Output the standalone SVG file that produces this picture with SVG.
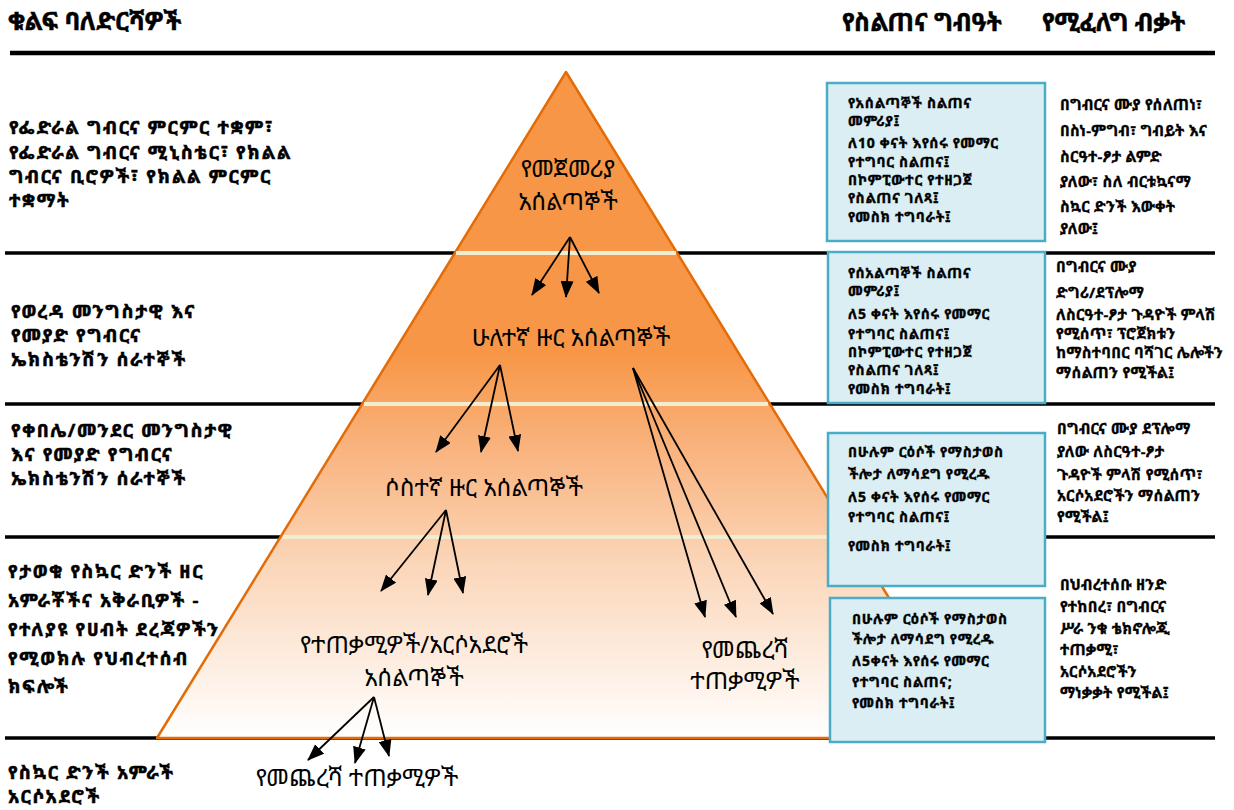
<svg xmlns="http://www.w3.org/2000/svg" width="1234" height="810" viewBox="0 0 1234 810">
<defs>
<linearGradient id="pyr" gradientUnits="userSpaceOnUse" x1="0" y1="72" x2="0" y2="738">
<stop offset="0" stop-color="#F79646"/>
<stop offset="0.42" stop-color="#F79646"/>
<stop offset="0.57" stop-color="#F9B480"/>
<stop offset="0.74" stop-color="#FBD6B9"/>
<stop offset="1" stop-color="#FFFFFF"/>
</linearGradient>
<marker id="ah" markerUnits="userSpaceOnUse" markerWidth="17" markerHeight="13" refX="16" refY="6.5" orient="auto">
<path d="M0,0 L17,6.5 L0,13 z" fill="#000"/>
</marker>
<style>
text{font-family:"Noto Sans Ethiopic","Noto Sans","DejaVu Sans",sans-serif;fill:#000}
.hd{font-size:24.5px;font-weight:bold;stroke:#000;stroke-width:0.5}
.lf{font-size:18.5px;letter-spacing:1.7px;font-weight:bold;stroke:#000;stroke-width:0.55}
.pc{font-size:24px}
.bx{font-size:14px;letter-spacing:0.7px;font-weight:bold;stroke:#000;stroke-width:0.4}
.rt{font-size:15px;letter-spacing:0.3px;font-weight:bold;stroke:#000;stroke-width:0.35}
.blk{stroke:#000;stroke-width:3.5;fill:none}
.crm{stroke:#F2EDCF;stroke-width:4;fill:none}
.box{fill:#DAEEF3;stroke:#4BACC6;stroke-width:2.5}
.arr{stroke:#000;stroke-width:1.8;fill:none;marker-end:url(#ah)}
</style>
</defs>
<rect width="1234" height="810" fill="#fff"/>
<g id="rules">
<line class="blk" x1="10" y1="53" x2="1215" y2="53" style="stroke-width:4.5"/>
<line class="blk" x1="5" y1="253" x2="1215" y2="253"/>
<line class="blk" x1="5" y1="404" x2="1215" y2="404"/>
<line class="blk" x1="5" y1="537" x2="1215" y2="537"/>
<line class="blk" x1="5" y1="738" x2="1215" y2="738"/>
</g>
<g id="pyramid">
<path d="M566,72 L975,738 L157,738 Z" fill="url(#pyr)" stroke="#E36C09" stroke-width="2.5" stroke-linejoin="round"/>
<line class="crm" x1="456" y1="253" x2="676" y2="253"/>
<line class="crm" x1="364" y1="404" x2="768" y2="404"/>
<line class="crm" x1="283" y1="537" x2="849" y2="537"/>
</g>
<g id="header">
<text class="hd" x="8" y="30">ቁልፍ ባለድርሻዎች</text>
<text class="hd" x="842" y="31">የስልጠና ግብዓት</text>
<text class="hd" x="1042" y="31">የሚፈለግ ብቃት</text>
</g>
<g id="left-tier1">
<text class="lf" x="9" y="134">የፌድራል ግብርና ምርምር ተቋም፣</text>
<text class="lf" x="9" y="159">የፌድራል ግብርና ሚኒስቴር፣  የክልል</text>
<text class="lf" x="9" y="183">ግብርና ቢሮዎች፣ የክልል ምርምር</text>
<text class="lf" x="9" y="207">ተቋማት</text>
</g>
<g id="left-tier2">
<text class="lf" x="11" y="318">የወረዳ መንግስታዊ እና</text>
<text class="lf" x="11" y="342">የመያድ የግብርና</text>
<text class="lf" x="11" y="366">ኤክስቴንሽን ሰራተኞች</text>
</g>
<g id="left-tier3">
<text class="lf" x="11" y="437">የቀበሌ/መንደር መንግስታዊ</text>
<text class="lf" x="11" y="461">እና የመያድ የግብርና</text>
<text class="lf" x="11" y="485">ኤክስቴንሽን ሰራተኞች</text>
</g>
<g id="left-tier4">
<text class="lf" x="8" y="578">የታወቁ የስኳር ድንች ዘር</text>
<text class="lf" x="8" y="607">አምራቾችና አቅራቢዎች -</text>
<text class="lf" x="8" y="636">የተለያዩ የሀብት ደረጃዎችን</text>
<text class="lf" x="8" y="665">የሚወክሉ የህብረተሰብ</text>
<text class="lf" x="8" y="693">ክፍሎች</text>
</g>
<g id="left-bottom">
<text class="lf" x="8" y="779">የስኳር ድንች አምራች</text>
<text class="lf" x="8" y="803">አርሶአደሮች</text>
</g>
<g id="node-first">
<text class="pc" x="568" y="177" text-anchor="middle">የመጀመሪያ</text>
<text class="pc" x="568" y="210" text-anchor="middle">አሰልጣኞች</text>
</g>
<g id="node-second">
<text class="pc" x="571" y="346" text-anchor="middle">ሁለተኛ ዙር አሰልጣኞች</text>
</g>
<g id="node-third">
<text class="pc" x="484" y="496" text-anchor="middle">ሶስተኛ ዙር አሰልጣኞች</text>
</g>
<g id="node-users">
<text class="pc" x="414" y="653" text-anchor="middle">የተጠቃሚዎች/አርሶአደሮች</text>
<text class="pc" x="414" y="686" text-anchor="middle">አሰልጣኞች</text>
</g>
<g id="node-end-right">
<text class="pc" x="745" y="658" text-anchor="middle">የመጨረሻ</text>
<text class="pc" x="745" y="689" text-anchor="middle">ተጠቃሚዎች</text>
</g>
<g id="node-end-bottom">
<text class="pc" x="357" y="786" text-anchor="middle">የመጨረሻ ተጠቃሚዎች</text>
</g>
<g id="connectors">
<line class="arr" x1="570" y1="237" x2="532" y2="295"/>
<line class="arr" x1="570" y1="237" x2="566" y2="297"/>
<line class="arr" x1="570" y1="237" x2="599" y2="293"/>
<line class="arr" x1="500" y1="365" x2="436" y2="452"/>
<line class="arr" x1="500" y1="365" x2="481" y2="452"/>
<line class="arr" x1="500" y1="365" x2="518" y2="451"/>
<line class="arr" x1="633" y1="368" x2="705" y2="617"/>
<line class="arr" x1="633" y1="368" x2="736" y2="617"/>
<line class="arr" x1="633" y1="368" x2="773" y2="614"/>
<line class="arr" x1="446" y1="510" x2="381" y2="591"/>
<line class="arr" x1="446" y1="510" x2="428" y2="595"/>
<line class="arr" x1="446" y1="510" x2="463" y2="593"/>
<line class="arr" x1="374" y1="697" x2="308" y2="760"/>
<line class="arr" x1="374" y1="697" x2="355" y2="763"/>
<line class="arr" x1="374" y1="697" x2="389" y2="756"/>
</g>
<g id="box1">
<rect class="box" x="827" y="83" width="218" height="158"/>
<text class="bx" x="848" y="108">የአሰልጣኞች ስልጠና</text>
<text class="bx" x="848" y="126">መምሪያ፤</text>
<text class="bx" x="848" y="148">ለ10 ቀናት እየሰሩ የመማር</text>
<text class="bx" x="848" y="167">የተግባር ስልጠና፤</text>
<text class="bx" x="848" y="185">በኮምፒውተር የተዘጋጀ</text>
<text class="bx" x="848" y="203">የስልጠና ገለጻ፤</text>
<text class="bx" x="848" y="222">የመስክ ተግባራት፤</text>
</g>
<g id="req1">
<text class="rt" x="1060" y="110">በግብርና ሙያ የሰለጠነ፣</text>
<text class="rt" x="1060" y="136">በስነ-ምግብ፣ ግብይት እና</text>
<text class="rt" x="1060" y="162">ስርዓተ-ፆታ ልምድ</text>
<text class="rt" x="1060" y="187">ያለው፣ ስለ ብርቱኳናማ</text>
<text class="rt" x="1060" y="212">ስኳር ድንች እውቀት</text>
<text class="rt" x="1060" y="234">ያለው፤</text>
</g>
<g id="box2">
<rect class="box" x="828" y="252" width="217" height="151"/>
<text class="bx" x="848" y="278">የሰአልጣኞች ስልጠና</text>
<text class="bx" x="848" y="296">መምሪያ፤</text>
<text class="bx" x="848" y="319">ለ5 ቀናት እየሰሩ የመማር</text>
<text class="bx" x="848" y="339">የተግባር ስልጠና፤</text>
<text class="bx" x="848" y="357">በኮምፒውተር የተዘጋጀ</text>
<text class="bx" x="848" y="375">የስልጠና ገለጻ፤</text>
<text class="bx" x="848" y="394">የመስክ ተግባራት፤</text>
</g>
<g id="req2">
<text class="rt" x="1056" y="272">በግብርና ሙያ</text>
<text class="rt" x="1056" y="298">ድግሪ/ደፕሎማ</text>
<text class="rt" x="1056" y="320">ለስርዓተ-ፆታ ጉዳዮች ምላሽ</text>
<text class="rt" x="1056" y="339">የሚሰጥ፣ ፕሮጀክቱን</text>
<text class="rt" x="1056" y="358">ከማስተባበር ባሻገር ሌሎችን</text>
<text class="rt" x="1056" y="378">ማሰልጠን የሚችል፤</text>
</g>
<g id="box3">
<rect class="box" x="828" y="433" width="217" height="153"/>
<text class="bx" x="848" y="457">በሁሉም ርዕሶች የማስታወስ</text>
<text class="bx" x="848" y="479">ችሎታ ለማሳደግ የሚረዱ</text>
<text class="bx" x="848" y="502">ለ5 ቀናት እየሰሩ የመማር</text>
<text class="bx" x="848" y="522">የተግባር ስልጠና፤</text>
<text class="bx" x="848" y="551">የመስክ ተግባራት፤</text>
</g>
<g id="req3">
<text class="rt" x="1057" y="434">በግብርና ሙያ ደፕሎማ</text>
<text class="rt" x="1057" y="457">ያለው ለስርዓተ-ፆታ</text>
<text class="rt" x="1057" y="480">ጉዳዮች ምላሽ የሚሰጥ፣</text>
<text class="rt" x="1057" y="501">አርሶአደሮችን ማሰልጠን</text>
<text class="rt" x="1057" y="522">የሚችል፤</text>
</g>
<g id="box4">
<rect class="box" x="830" y="598" width="215" height="144"/>
<text class="bx" x="852" y="624">በሁሉም ርዕሶች የማስታወስ</text>
<text class="bx" x="852" y="644">ችሎታ ለማሳደግ የሚረዱ</text>
<text class="bx" x="852" y="666">ለ5ቀናት እየሰሩ የመማር</text>
<text class="bx" x="852" y="687">የተግባር ስልጠና;</text>
<text class="bx" x="852" y="708">የመስክ ተግባራት፤</text>
</g>
<g id="req4">
<text class="rt" x="1060" y="590">በህብረተሰቡ ዘንድ</text>
<text class="rt" x="1060" y="612">የተከበረ፣ በግብርና</text>
<text class="rt" x="1060" y="634">ሥራ ንቁ ቴክኖሎጂ</text>
<text class="rt" x="1060" y="655">ተጠቃሚ፣</text>
<text class="rt" x="1060" y="677">አርሶአደሮችን</text>
<text class="rt" x="1060" y="698">ማነቃቃት የሚችል፤</text>
</g>
</svg>
